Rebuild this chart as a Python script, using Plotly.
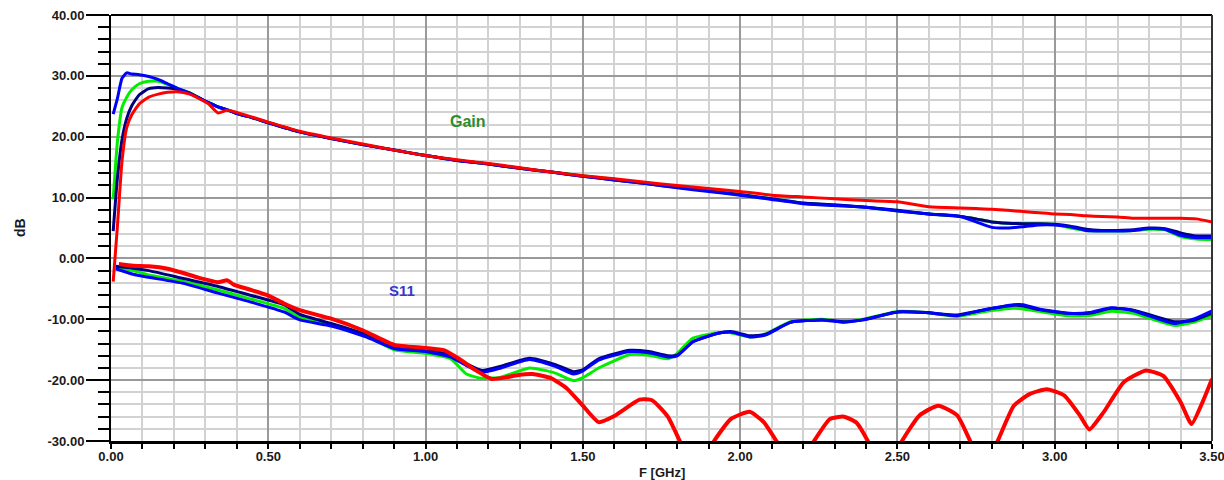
import plotly.graph_objects as go

# ---------------- data ----------------
freq_gain = [0.007, 0.02, 0.035, 0.05, 0.066, 0.09, 0.12, 0.15, 0.18, 0.21,
             0.25, 0.29, 0.31, 0.34, 0.37, 0.4, 0.45, 0.5, 0.6, 0.7,
             0.8, 0.9, 1.0, 1.1, 1.2, 1.3, 1.4, 1.5, 1.6, 1.7,
             1.8, 1.9, 2.0, 2.1, 2.2, 2.3, 2.4, 2.5, 2.6, 2.7,
             2.75, 2.8, 2.85, 2.9, 2.95, 3.0, 3.05, 3.1, 3.15, 3.2,
             3.25, 3.3, 3.35, 3.4, 3.45, 3.5]

gain_blue = [23.7, 26.2, 29.6, 30.5, 30.3, 30.2, 29.9, 29.4, 28.7, 28.0,
             27.1, 26.1, 25.6, 24.9, 24.4, 23.8, 23.1, 22.3, 20.8, 19.7,
             18.7, 17.8, 16.9, 16.1, 15.5, 14.8, 14.2, 13.5, 12.9, 12.3,
             11.6, 11.0, 10.4, 9.7, 9.0, 8.7, 8.4, 7.8, 7.3, 6.9,
             6.0, 5.1, 5.0, 5.2, 5.5, 5.5, 5.2, 4.6, 4.5, 4.5,
             4.6, 4.9, 4.8, 3.8, 3.4, 3.4]

gain_navy = [4.5, 13.0, 19.5, 23.0, 25.1, 26.9, 27.9, 28.1, 28.0, 27.8,
             27.2, 26.1, 25.6, 24.9, 24.4, 23.8, 23.1, 22.3, 20.8, 19.7,
             18.7, 17.8, 16.9, 16.1, 15.5, 14.8, 14.2, 13.5, 12.9, 12.3,
             11.7, 11.1, 10.5, 9.8, 9.1, 8.8, 8.4, 7.9, 7.3, 6.9,
             6.5, 6.0, 5.8, 5.7, 5.7, 5.6, 5.3, 4.8, 4.6, 4.6,
             4.7, 5.0, 4.9, 4.2, 3.7, 3.7]

gain_green = [9.7, 19.0, 24.8, 26.5, 27.7, 28.7, 29.1, 29.1, 28.6, 28.0,
              27.2, 26.1, 25.6, 24.9, 24.4, 23.8, 23.1, 22.3, 20.8, 19.7,
              18.7, 17.8, 16.9, 16.1, 15.5, 14.8, 14.2, 13.6, 13.0, 12.4,
              11.7, 11.1, 10.5, 9.8, 9.1, 8.7, 8.4, 7.8, 7.3, 6.9,
              6.5, 6.0, 5.8, 5.7, 5.7, 5.6, 5.0, 4.6, 4.5, 4.5,
              4.6, 4.8, 4.7, 3.6, 3.2, 3.1]

gain_red = [-3.8, 5.0, 16.0, 21.5, 23.6, 25.4, 26.5, 27.0, 27.3, 27.4,
            27.0, 26.0, 25.4, 23.9, 24.4, 24.0, 23.2, 22.4, 20.9, 19.8,
            18.8, 17.8, 16.9, 16.2, 15.6, 14.9, 14.2, 13.6, 13.1, 12.5,
            12.0, 11.5, 11.0, 10.4, 10.1, 9.8, 9.5, 9.3, 8.5, 8.3,
            8.2, 8.1, 7.9, 7.7, 7.5, 7.3, 7.2, 7.0, 6.9, 6.8,
            6.6, 6.6, 6.6, 6.6, 6.5, 6.0]

freq_s11 = [0.015, 0.07, 0.12, 0.23, 0.34, 0.44, 0.55, 0.6, 0.7, 0.81,
            0.9, 1.0, 1.08, 1.13, 1.18, 1.24, 1.33, 1.41, 1.47, 1.5,
            1.55, 1.65, 1.71, 1.77, 1.8, 1.85, 1.93, 1.97, 2.03, 2.08,
            2.16, 2.26, 2.33, 2.39, 2.5, 2.59, 2.69, 2.77, 2.87, 2.9,
            2.95, 3.04, 3.11, 3.18, 3.25, 3.38, 3.44, 3.5]

s11_blue = [-1.7, -2.6, -3.1, -4.1, -5.7, -7.1, -8.8, -10.1, -11.1, -12.9,
            -14.8, -15.3, -16.2, -17.6, -18.7, -18.0, -16.6, -17.7, -19.0, -18.5,
            -16.7, -15.3, -15.5, -16.2, -16.0, -13.7, -12.3, -12.1, -12.9, -12.6,
            -10.5, -10.1, -10.5, -10.1, -8.8, -8.9, -9.4, -8.5, -7.6, -7.6,
            -8.3, -9.0, -8.9, -8.1, -8.6, -10.7, -10.0, -8.6]

s11_navy = [-1.3, -1.6, -2.0, -3.3, -4.6, -6.0, -7.6, -9.2, -10.7, -12.5,
            -14.5, -15.0, -15.9, -17.3, -18.4, -17.7, -16.4, -17.4, -18.6, -18.3,
            -16.5, -15.1, -15.3, -16.0, -15.9, -13.7, -12.3, -12.0, -12.7, -12.5,
            -10.5, -10.1, -10.4, -10.1, -8.8, -8.9, -9.3, -8.5, -7.7, -7.8,
            -8.4, -9.0, -9.0, -8.2, -8.5, -10.4, -10.2, -9.0]

s11_green = [-1.5, -2.0, -2.7, -3.8, -5.2, -6.6, -8.2, -9.7, -11.0, -12.7,
             -15.0, -15.6, -16.5, -19.0, -19.7, -19.5, -18.0, -18.8, -20.1, -19.6,
             -18.0, -15.8, -15.9, -16.5, -15.6, -13.1, -12.2, -12.2, -12.9, -12.4,
             -10.4, -10.0, -10.4, -10.0, -8.7, -8.9, -9.5, -8.8, -8.2, -8.3,
             -8.7, -9.4, -9.4, -8.7, -9.0, -11.0, -10.5, -9.4]

freq_s11_red = [0.025, 0.07, 0.12, 0.18, 0.23, 0.28, 0.34, 0.37, 0.39, 0.44,
                0.5, 0.55, 0.6, 0.7, 0.8, 0.9, 1.0, 1.06, 1.11, 1.16,
                1.21, 1.26, 1.3, 1.34, 1.4, 1.45, 1.5, 1.55, 1.6, 1.68,
                1.72, 1.77, 1.81, 1.865, 1.915, 1.97, 2.03, 2.075, 2.12, 2.175,
                2.23, 2.285, 2.33, 2.37, 2.41, 2.46, 2.51, 2.57, 2.63, 2.69,
                2.735, 2.775, 2.815, 2.87, 2.92, 2.975, 3.03, 3.08, 3.11, 3.155,
                3.22, 3.29, 3.345, 3.4, 3.435, 3.47, 3.5]

s11_red = [-0.9, -1.2, -1.3, -1.7, -2.4, -3.2, -3.9, -3.6, -4.3, -5.1,
           -6.1, -7.4, -8.5, -9.9, -11.8, -14.2, -14.7, -15.1, -16.6, -18.4,
           -19.8, -19.5, -19.1, -19.0, -19.7, -21.4, -24.2, -26.9, -25.9, -23.2,
           -23.3, -26.0, -30.2, -36.0, -30.2, -26.4, -25.2, -26.9, -30.4, -35.0,
           -30.4, -26.4, -26.0, -27.0, -30.4, -36.0, -30.4, -25.8, -24.2, -25.8,
           -30.4, -34.0, -30.4, -24.2, -22.3, -21.5, -22.5, -25.8, -28.1, -25.3,
           -20.3, -18.4, -19.3, -23.6, -27.2, -23.6, -19.8]

x_ticks = [0.0, 0.5, 1.0, 1.5, 2.0, 2.5, 3.0, 3.5]
y_ticks = [-30, -20, -10, 0, 10, 20, 30, 40]

# ---------------- figure ----------------
fig = go.Figure()

def add(x, y, color, width=3):
    fig.add_trace(go.Scatter(
        x=x, y=y, mode="lines",
        line=dict(color=color, width=width, shape="spline", smoothing=0.5),
        showlegend=False, hoverinfo="skip"))

add(freq_gain, gain_green, "#00ee00")
add(freq_s11, s11_green, "#00ee00")
add(freq_gain, gain_navy, "#000080")
add(freq_s11, s11_navy, "#000080")
add(freq_gain, gain_blue, "#0000ff")
add(freq_s11, s11_blue, "#0000ff")
add(freq_gain, gain_red, "#ff0000")
add(freq_s11_red, s11_red, "#ff0000", width=4)

FONT = "Liberation Sans, Arial, sans-serif"
tick_font = dict(family=FONT, size=13, color="#1a1a1a", weight="bold")

fig.update_layout(
    width=1224, height=480,
    margin=dict(l=111, r=12, t=15, b=39, autoexpand=False),
    paper_bgcolor="white", plot_bgcolor="white",
    xaxis=dict(
        range=[0, 3.5], tickvals=x_ticks,
        ticktext=[f"{v:.2f}" for v in x_ticks],
        showgrid=True, gridcolor="#9a9a9a", gridwidth=1.5,
        showline=True, linecolor="black", linewidth=3,
        ticks="outside", ticklen=5, tickwidth=2, tickcolor="black",
        ticklabelstandoff=-4, ticklabeloverflow="allow",
        minor=dict(dtick=0.1, showgrid=True, gridcolor="#d2d2d2", gridwidth=2,
                   ticks="outside", ticklen=5, tickwidth=2, tickcolor="black"),
        tickfont=tick_font, zeroline=False, fixedrange=True, automargin=False,
    ),
    yaxis=dict(
        range=[-30, 40], tickvals=y_ticks,
        ticktext=[f"{v:.2f}" for v in y_ticks],
        showgrid=True, gridcolor="#9a9a9a", gridwidth=1.5,
        showline=True, linecolor="black", linewidth=2,
        ticks="outside", ticklen=23, tickwidth=2, tickcolor="black",
        ticklabelstandoff=-1, ticklabeloverflow="allow",
        minor=dict(dtick=2, showgrid=True, gridcolor="#d2d2d2", gridwidth=2,
                   ticks="outside", ticklen=11, tickwidth=2, tickcolor="black"),
        tickfont=tick_font, zeroline=False, fixedrange=True, automargin=False,
    ),
    shapes=[
        dict(type="line", xref="paper", yref="paper", x0=0, x1=1, y0=1, y1=1,
             line=dict(color="black", width=2)),
        dict(type="line", xref="paper", yref="paper", x0=1, x1=1, y0=0, y1=1,
             line=dict(color="#333333", width=2)),
    ],
    annotations=[
        dict(text="Gain", x=1.135, y=22.5, xref="x", yref="y", showarrow=False,
             font=dict(family=FONT, size=16, color="#2e8b2e", weight="bold")),
        dict(text="S11", x=0.925, y=-5.3, xref="x", yref="y", showarrow=False,
             font=dict(family=FONT, size=15, color="#3838cc", weight="bold")),
        dict(text="dB", x=0, y=0.5, xref="paper", yref="paper", showarrow=False,
             xshift=-91, textangle=-90, xanchor="center", yanchor="middle",
             font=dict(family=FONT, size=14, color="#1a1a1a", weight="bold")),
        dict(text="F [GHz]", x=0.5, y=0, xref="paper", yref="paper", showarrow=False,
             yshift=-31, xanchor="center", yanchor="middle",
             font=dict(family=FONT, size=13, color="#1a1a1a", weight="bold")),
    ],
)

fig.write_html("out.html",
               config={"displayModeBar": False},
               post_script="document.body.style.margin='0';"
                           "document.body.style.overflow='hidden';")
